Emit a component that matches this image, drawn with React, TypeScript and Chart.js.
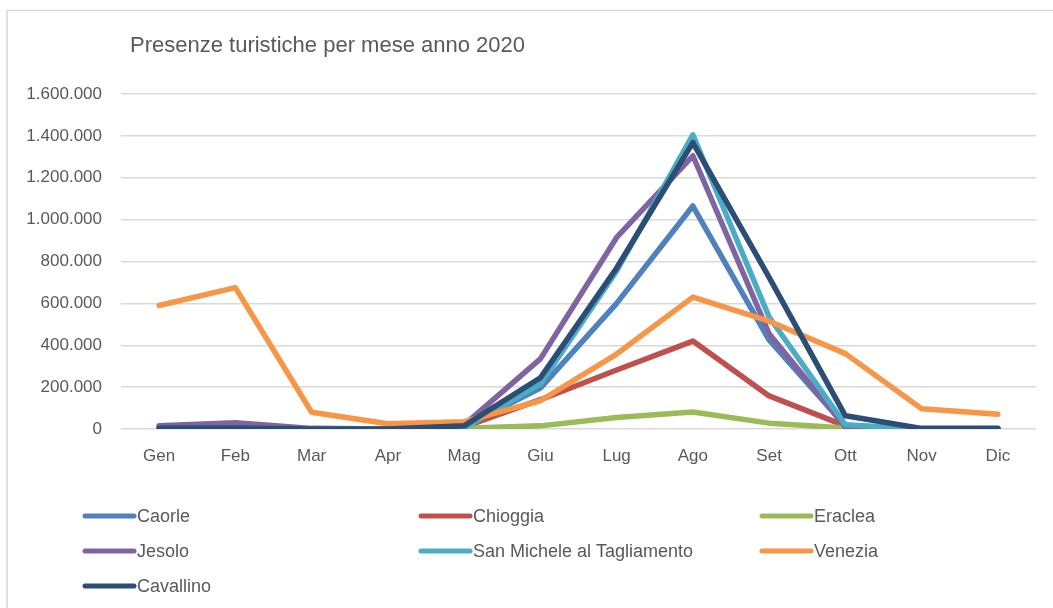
import React, { useEffect, useRef } from "react";
import { Chart, registerables } from "chart.js";

Chart.register(...registerables);

const TITLE = "Presenze turistiche per mese anno 2020";
const MONTHS = ["Gen", "Feb", "Mar", "Apr", "Mag", "Giu", "Lug", "Ago", "Set", "Ott", "Nov", "Dic"];

const SERIES_NAMES = ["Caorle", "Chioggia", "Eraclea", "Jesolo", "San Michele al Tagliamento", "Venezia", "Cavallino"];
const SERIES_COLORS = ["#4f81bd", "#c0504d", "#9bbb59", "#8064a2", "#4bacc6", "#f79646", "#2c4d75"];

const caorle = [5000, 8000, 0, 0, 10000, 195000, 600000, 1065000, 425000, 15000, 0, 0];
const chioggia = [5000, 5000, 0, 0, 10000, 140000, 282000, 420000, 158000, 15000, 0, 0];
const eraclea = [0, 0, 0, 0, 3000, 15000, 55000, 81000, 28000, 5000, 0, 0];
const jesolo = [15000, 30000, 3000, 0, 20000, 335000, 915000, 1305000, 455000, 10000, 0, 0];
const sanMichele = [3000, 3000, 0, 0, 5000, 215000, 755000, 1405000, 535000, 20000, 0, 0];
const venezia = [590000, 675000, 80000, 25000, 35000, 135000, 358000, 630000, 515000, 360000, 97000, 70000];
const cavallino = [5000, 5000, 0, 0, 15000, 245000, 769000, 1368000, 724000, 63000, 3000, 3000];

const SERIES_VALUES = [caorle, chioggia, eraclea, jesolo, sanMichele, venezia, cavallino];

const Y_MIN = 0;
const Y_MAX = 1600000;
const Y_STEP = 200000;

const FONT = "'Liberation Sans', Arial, sans-serif";
const TEXT_COLOR = "#595959";
const GRID_COLOR = "#d9d9d9";

function fmt(v: number): string {
  return String(Math.round(v)).replace(/\B(?=(\d{3})+(?!\d))/g, ".");
}

const decorPlugin = {
  id: "decor",
  beforeDraw(chart: any) {
    const ctx = chart.ctx;
    ctx.save();
    ctx.fillStyle = "#ffffff";
    ctx.fillRect(0, 0, chart.width, chart.height);
    ctx.strokeStyle = GRID_COLOR;
    ctx.lineWidth = 1.5;
    ctx.strokeRect(7, 10.5, 1200, 800);
    ctx.restore();
  },
  afterDraw(chart: any) {
    const ctx = chart.ctx;
    ctx.save();
    ctx.fillStyle = TEXT_COLOR;
    ctx.font = `22px ${FONT}`;
    ctx.textBaseline = "middle";
    ctx.textAlign = "left";
    ctx.fillText(TITLE, 130, 46);

    // legend grid: 3 columns
    const colX = [83, 419, 760];
    const rowY = [516, 551, 586];
    ctx.font = `18px ${FONT}`;
    SERIES_NAMES.forEach((name, i) => {
      const x = colX[i % 3];
      const y = rowY[Math.floor(i / 3)];
      ctx.strokeStyle = SERIES_COLORS[i];
      ctx.lineWidth = 5;
      ctx.lineCap = "round";
      ctx.beginPath();
      ctx.moveTo(x + 2, y);
      ctx.lineTo(x + 51, y);
      ctx.stroke();
      ctx.fillStyle = TEXT_COLOR;
      ctx.fillText(name, x + 54, y + 1);
    });
    ctx.restore();
  },
};

export default function App() {
  const ref = useRef<HTMLCanvasElement | null>(null);

  useEffect(() => {
    if (!ref.current) return;
    const chart = new Chart(ref.current, {
      type: "line",
      data: {
        labels: MONTHS,
        datasets: SERIES_NAMES.map((name, i) => ({
          label: name,
          data: SERIES_VALUES[i],
          borderColor: SERIES_COLORS[i],
          backgroundColor: SERIES_COLORS[i],
          borderWidth: 5.5,
          borderCapStyle: "round" as const,
          borderJoinStyle: "round" as const,
          pointRadius: 0,
          pointHoverRadius: 0,
          tension: 0,
          fill: false,
          order: SERIES_NAMES.length - i,
        })),
      },
      options: {
        responsive: false,
        animation: false,
        layout: { padding: { top: 94, left: 0, right: 17, bottom: 129 } },
        plugins: {
          legend: { display: false },
          title: { display: false },
          tooltip: { enabled: false },
        },
        scales: {
          x: {
            offset: true,
            grid: { display: false, drawTicks: false },
            border: { display: false },
            ticks: {
              color: TEXT_COLOR,
              font: { family: FONT, size: 17 },
              padding: 17,
              maxRotation: 0,
              autoSkip: false,
            },
            afterFit(scale: any) {
              scale.height = 50;
            },
          },
          y: {
            min: Y_MIN,
            max: Y_MAX,
            grid: { color: GRID_COLOR, lineWidth: 1.5, drawTicks: false },
            border: { display: false },
            ticks: {
              stepSize: Y_STEP,
              color: TEXT_COLOR,
              font: { family: FONT, size: 17 },
              padding: 19,
              callback: (v: any) => fmt(Number(v)),
            },
            afterFit(scale: any) {
              scale.width = 121;
            },
          },
        },
      },
      plugins: [decorPlugin],
    });
    return () => chart.destroy();
  }, []);

  return (
    <div style={{ position: "fixed", left: 0, top: 0, width: 1053, height: 608, overflow: "hidden", background: "#fff" }}>
      <canvas ref={ref} width={1053} height={608} style={{ display: "block" }} />
    </div>
  );
}
